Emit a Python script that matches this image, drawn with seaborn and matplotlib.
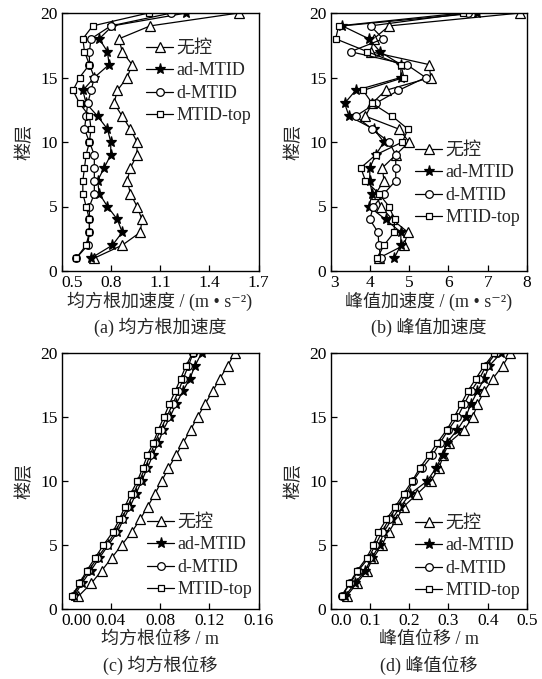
import numpy as np
import pandas as pd
import matplotlib
matplotlib.use("Agg")
import matplotlib.pyplot as plt
import seaborn as sns

sns.set_style("ticks")
plt.rcParams['font.family'] = ['Liberation Serif', 'Noto Sans CJK SC', 'DejaVu Sans']
plt.rcParams['axes.unicode_minus'] = False

floors = list(range(1, 21))
series = ['无控', 'ad-MTID', 'd-MTID', 'MTID-top']

# (a) RMS acceleration (m/s^2), floors 1..20
rms_acc_none = [0.70, 0.87, 0.98, 0.99, 0.96, 0.92, 0.90, 0.92, 0.96, 0.96,
                0.92, 0.87, 0.82, 0.84, 0.90, 0.93, 0.87, 0.85, 1.04, 1.58]
rms_acc_ad = [0.68, 0.81, 0.87, 0.84, 0.78, 0.73, 0.72, 0.76, 0.80, 0.80,
              0.78, 0.72, 0.65, 0.63, 0.70, 0.79, 0.78, 0.73, 0.81, 1.26]
rms_acc_d = [0.59, 0.66, 0.67, 0.67, 0.67, 0.70, 0.70, 0.70, 0.70, 0.67,
             0.64, 0.65, 0.66, 0.68, 0.70, 0.67, 0.67, 0.68, 0.80, 1.17]
rms_acc_top = [0.59, 0.65, 0.67, 0.67, 0.65, 0.63, 0.63, 0.64, 0.65, 0.67,
               0.68, 0.67, 0.61, 0.57, 0.61, 0.67, 0.64, 0.63, 0.69, 1.03]

# (b) peak acceleration (m/s^2)
pk_acc_none = [4.23, 4.87, 4.97, 4.57, 4.28, 4.15, 4.36, 4.32, 4.66, 5.00,
               4.74, 3.89, 4.06, 4.40, 5.55, 5.51, 4.02, 4.10, 4.49, 7.83]
pk_acc_ad = [4.62, 4.79, 4.79, 4.40, 3.98, 4.06, 4.00, 4.00, 4.15, 4.36,
             4.10, 3.47, 3.36, 3.64, 4.79, 4.79, 4.26, 3.98, 3.30, 6.74]
pk_acc_d = [4.28, 4.23, 4.21, 4.00, 4.09, 4.36, 4.66, 4.66, 4.66, 4.49,
            4.06, 3.64, 4.15, 4.73, 5.42, 4.94, 3.51, 4.34, 4.02, 6.49]
pk_acc_top = [4.19, 4.36, 4.62, 4.63, 4.49, 4.23, 3.89, 3.77, 4.15, 4.83,
              4.97, 4.57, 4.06, 3.83, 4.87, 4.79, 3.94, 3.13, 3.21, 6.36]

# (c) RMS displacement (m)
rms_dis_none = [0.0138, 0.0241, 0.0327, 0.0408, 0.0489, 0.0570, 0.0638, 0.0700, 0.0759, 0.0814,
                0.0868, 0.0930, 0.0989, 0.1049, 0.1105, 0.1165, 0.1227, 0.1286, 0.1349, 0.1408]
rms_dis_ad = [0.0103, 0.0165, 0.0238, 0.0308, 0.0381, 0.0454, 0.0503, 0.0557, 0.0605, 0.0651,
              0.0697, 0.0741, 0.0786, 0.0827, 0.0881, 0.0930, 0.0984, 0.1043, 0.1084, 0.1138]
rms_dis_d = [0.0092, 0.0151, 0.0219, 0.0292, 0.0368, 0.0435, 0.0489, 0.0535, 0.0584, 0.0632,
             0.0678, 0.0719, 0.0759, 0.0805, 0.0854, 0.0903, 0.0949, 0.0989, 0.1030, 0.1070]
rms_dis_top = [0.0084, 0.0146, 0.0205, 0.0273, 0.0341, 0.0416, 0.0470, 0.0516, 0.0562, 0.0616,
               0.0659, 0.0697, 0.0746, 0.0786, 0.0832, 0.0876, 0.0922, 0.0968, 0.1011, 0.1065]

# (d) peak displacement (m)
pk_dis_none = [0.041, 0.067, 0.092, 0.109, 0.131, 0.148, 0.168, 0.186, 0.221, 0.255,
               0.276, 0.287, 0.302, 0.340, 0.362, 0.374, 0.391, 0.413, 0.438, 0.458]
pk_dis_ad = [0.037, 0.062, 0.088, 0.105, 0.125, 0.135, 0.156, 0.178, 0.203, 0.246,
             0.268, 0.285, 0.296, 0.323, 0.344, 0.357, 0.374, 0.391, 0.404, 0.434]
pk_dis_d = [0.028, 0.050, 0.071, 0.097, 0.114, 0.131, 0.148, 0.169, 0.193, 0.210,
            0.233, 0.259, 0.279, 0.300, 0.323, 0.340, 0.357, 0.379, 0.396, 0.421]
pk_dis_top = [0.028, 0.048, 0.068, 0.092, 0.109, 0.122, 0.142, 0.165, 0.186, 0.208,
              0.227, 0.250, 0.272, 0.296, 0.315, 0.332, 0.349, 0.370, 0.391, 0.417]

panels = [
    dict(data=[rms_acc_none, rms_acc_ad, rms_acc_d, rms_acc_top],
         xlim=(0.5, 1.7), xticks=[0.5, 0.8, 1.1, 1.4, 1.7], fmt='{:.1f}',
         xlabel='均方根加速度 / (m • s⁻²)', caption='(a) 均方根加速度',
         rect=[61.5, 13, 258.5, 271], leg=(146, 40)),
    dict(data=[pk_acc_none, pk_acc_ad, pk_acc_d, pk_acc_top],
         xlim=(3, 8), xticks=[3, 4, 5, 6, 7, 8], fmt='{:.0f}',
         xlabel='峰值加速度 / (m • s⁻²)', caption='(b) 峰值加速度',
         rect=[330.5, 13, 527, 271], leg=(415, 142)),
    dict(data=[rms_dis_none, rms_dis_ad, rms_dis_d, rms_dis_top],
         xlim=(0, 0.16), xticks=[0, 0.04, 0.08, 0.12, 0.16], fmt='{:.2f}',
         xlabel='均方根位移 / m', caption='(c) 均方根位移',
         rect=[61.5, 353, 258.5, 609], leg=(147, 514)),
    dict(data=[pk_dis_none, pk_dis_ad, pk_dis_d, pk_dis_top],
         xlim=(0, 0.5), xticks=[0, 0.1, 0.2, 0.3, 0.4, 0.5], fmt='{:.1f}',
         xlabel='峰值位移 / m', caption='(d) 峰值位移',
         rect=[330.5, 353, 527, 609], leg=(415, 515)),
]

styles = {
    '无控': dict(marker='^', markersize=6.5, markerfacecolor='white'),
    'ad-MTID': dict(marker='*', markersize=8, markerfacecolor='black'),
    'd-MTID': dict(marker='o', markersize=5.5, markerfacecolor='white'),
    'MTID-top': dict(marker='s', markersize=5, markerfacecolor='white'),
}

W, H = 542, 679
fig = plt.figure(figsize=(W / 100, H / 100), dpi=100)
fig.patch.set_facecolor('white')

for p in panels:
    x0, y0, x1, y1 = p['rect']
    ax = fig.add_axes([x0 / W, 1 - y1 / H, (x1 - x0) / W, (y1 - y0) / H])
    for name, vals in zip(series, p['data']):
        df = pd.DataFrame({'value': vals, 'floor': floors})
        sns.lineplot(data=df, x='value', y='floor', orient='y', sort=False,
                     estimator=None, errorbar=None, color='black', linewidth=0.9,
                     markeredgecolor='black', markeredgewidth=0.9,
                     label=name, ax=ax, **styles[name])
    ax.set_xlim(*p['xlim'])
    ax.set_ylim(0, 20)
    ax.set_xticks(p['xticks'])
    ax.set_xticklabels([p['fmt'].format(t) for t in p['xticks']])
    ax.set_yticks([0, 5, 10, 15, 20])
    ax.tick_params(direction='in', length=4, width=0.9, labelsize=12.5,
                   top=False, right=False, colors='black', pad=3)
    ax.get_xticklabels()[0].set_ha('left')
    for s in ax.spines.values():
        s.set_visible(True)
        s.set_linewidth(1.0)
        s.set_color('black')
    ax.set_xlabel('')
    ax.set_ylabel('楼层', fontsize=13, labelpad=5)
    ax.set_facecolor('white')
    lx, ly = p['leg']
    ax.legend(loc='upper left',
              bbox_to_anchor=((lx - x0) / (x1 - x0), (y1 - ly) / (y1 - y0)),
              frameon=False, fontsize=13, handlelength=1.5, handletextpad=0.2,
              labelspacing=0.3, borderaxespad=0, borderpad=0)
    cx = (x0 + x1) / 2 / W
    fig.text(cx, 1 - (y1 + 30) / H, p['xlabel'], ha='center', va='center', fontsize=13)
    fig.text(cx, 1 - (y1 + 56) / H, p['caption'], ha='center', va='center', fontsize=13)

fig.savefig('out.png', dpi=100, facecolor='white')
